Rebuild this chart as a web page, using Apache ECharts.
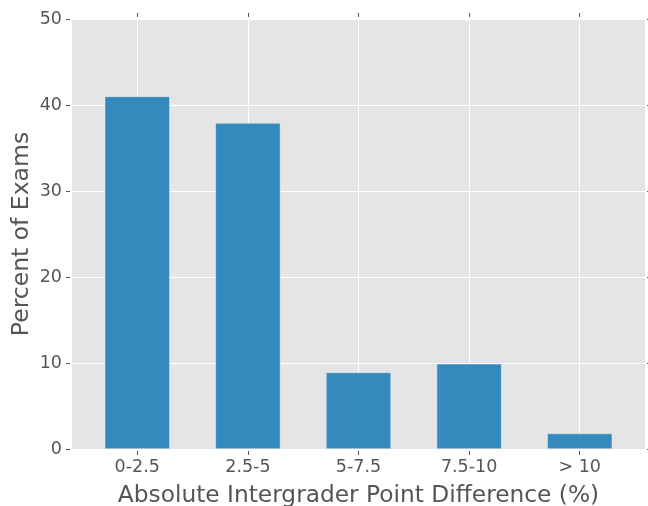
<!DOCTYPE html>
<html>
<head>
<meta charset="utf-8">
<script src="https://cdn.jsdelivr.net/npm/echarts@6/dist/echarts.min.js"></script>
<style>html,body{margin:0;padding:0;background:#fff;}#c{width:648px;height:506px;}</style>
</head>
<body>
<div id="c"></div>
<script>
var categories = ['0-2.5', '2.5-5', '5-7.5', '7.5-10', '> 10'];
var percents = [41.0, 37.9, 8.9, 9.9, 1.8];
var yTicks = [0, 10, 20, 30, 40, 50];

var positions = categories.map(function (c, i) { return i; });
var barData = percents.map(function (v, i) { return [positions[i], v]; });
var font = 'DejaVu Sans';
function ticks(custom) {
  var t = { show: true, length: 4, inside: false, lineStyle: { color: '#555555', width: 1 } };
  if (custom) t.customValues = custom;
  return t;
}
var hiddenLine = { show: true, onZero: false, lineStyle: { color: 'rgba(0,0,0,0)', width: 1 } };

var chart = echarts.init(document.getElementById('c'), null, { renderer: 'canvas' });
chart.setOption({
  animation: false,
  backgroundColor: '#ffffff',
  grid: { left: 72, right: 3, top: 19, bottom: 57, show: true, backgroundColor: '#E5E5E5', borderWidth: 0,
    containLabel: false, outerBoundsMode: 'none' },
  xAxis: [{
    type: 'value', min: -0.59, max: 4.59, position: 'bottom', offset: 2,
    axisLine: hiddenLine,
    axisTick: ticks(positions),
    axisLabel: { customValues: positions, margin: 7, color: '#555555', fontSize: 17.5, fontFamily: font,
      formatter: function (v) { var i = Math.round(v); return categories[i] !== undefined ? categories[i] : ''; } },
    splitLine: { show: true, lineStyle: { color: '#ffffff', width: 1 } },
    name: 'Absolute Intergrader Point Difference (%)', nameLocation: 'middle', nameGap: 33, nameMoveOverlap: false,
    nameTextStyle: { color: '#555555', fontSize: 23.3, fontFamily: font }
  }, {
    type: 'value', min: -0.59, max: 4.59, position: 'top', offset: 2,
    axisLine: hiddenLine,
    axisTick: ticks(positions),
    axisLabel: { show: false },
    splitLine: { show: false }
  }],
  yAxis: [{
    type: 'value', min: 0, max: 50, interval: 10, position: 'left', offset: 2,
    axisLine: hiddenLine,
    axisTick: ticks(),
    axisLabel: { margin: 8, color: '#555555', fontSize: 17.5, fontFamily: font },
    splitLine: { show: true, lineStyle: { color: '#ffffff', width: 1 } },
    name: 'Percent of Exams', nameLocation: 'middle', nameGap: 36, nameMoveOverlap: false,
    nameTextStyle: { color: '#555555', fontSize: 23.5, fontFamily: font }
  }, {
    type: 'value', min: 0, max: 50, interval: 10, position: 'right', offset: 2,
    axisLine: hiddenLine,
    axisTick: ticks(),
    axisLabel: { show: false },
    splitLine: { show: false }
  }],
  series: [{
    type: 'bar', xAxisIndex: 0, yAxisIndex: 0,
    data: barData, barWidth: 65,
    itemStyle: { color: '#348ABD', borderColor: '#EEEEEE', borderWidth: 0.5 }
  }]
});
</script>
</body>
</html>
